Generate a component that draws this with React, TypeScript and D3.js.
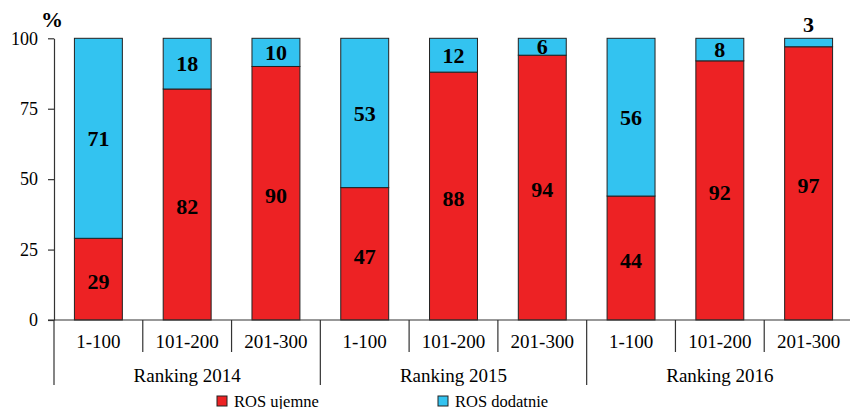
import * as d3 from 'd3';
import React, { useEffect, useRef } from 'react';

const groups = ['Ranking 2014', 'Ranking 2015', 'Ranking 2016'];
const ranges = ['1-100', '101-200', '201-300'];
const rosUjemne = [29, 82, 90, 47, 88, 94, 44, 92, 97];
const rosDodatnie = [71, 18, 10, 53, 12, 6, 56, 8, 3];
const yTicks = [0, 25, 50, 75, 100];
const seriesNames = ['ROS ujemne', 'ROS dodatnie'];
const colors = ['#ED2224', '#33C3F0'];

const W = 850;
const H = 409;

export default function App() {
  const ref = useRef<SVGSVGElement>(null);

  useEffect(() => {
    const svg = d3.select(ref.current);
    svg.selectAll('*').remove();
    const font = "'Liberation Serif', 'Times New Roman', Times, serif";

    const left = 54;
    const right = 853;
    const top = 38.3;
    const bottom = 320;

    const keys = d3.range(rosUjemne.length).map(String);
    const xCat = d3.scaleBand().domain(keys).range([left, right]).paddingInner(0).paddingOuter(0);
    const xBar = d3.scaleBand().domain(keys).range([left, right]).paddingInner(0.46).paddingOuter(0.23);
    const y = d3.scaleLinear().domain([0, 100]).range([bottom, top]);

    // y axis
    const yAxis = d3.axisLeft(y).tickValues(yTicks).tickSize(6).tickSizeOuter(0).tickPadding(10);
    const ya = svg.append('g').attr('transform', `translate(${left},0)`).call(yAxis);
    ya.attr('font-family', null).attr('font-size', null);
    ya.selectAll('path,line').attr('stroke', '#333').attr('stroke-width', 1.2);
    ya.selectAll('text')
      .style('font-family', font)
      .style('font-size', '18px')
      .attr('fill', '#000');

    svg.append('text')
      .attr('x', 52)
      .attr('y', 27)
      .attr('text-anchor', 'middle')
      .style('font-family', font)
      .style('font-weight', 'bold')
      .style('font-size', '22px')
      .text('%');

    // bars
    const g = svg.append('g');
    keys.forEach((k, i) => {
      const x0 = xBar(k);
      const bw = xBar.bandwidth();
      const neg = rosUjemne[i];
      const pos = rosDodatnie[i];
      g.append('rect')
        .attr('x', x0).attr('width', bw)
        .attr('y', y(neg)).attr('height', y(0) - y(neg))
        .attr('fill', colors[0]).attr('stroke', '#222').attr('stroke-width', 1);
      g.append('rect')
        .attr('x', x0).attr('width', bw)
        .attr('y', y(neg + pos)).attr('height', y(neg) - y(neg + pos))
        .attr('fill', colors[1]).attr('stroke', '#222').attr('stroke-width', 1);

      const cx = x0 + bw / 2;
      g.append('text')
        .attr('x', cx).attr('y', (y(0) + y(neg)) / 2 + 2)
        .attr('dy', '0.35em')
        .attr('text-anchor', 'middle')
        .style('font-family', font).style('font-weight', 'bold').style('font-size', '22px')
        .text(neg);
      const small = y(neg) - y(neg + pos) < 16;
      g.append('text')
        .attr('x', cx).attr('y', small ? y(neg + pos) - 6 : (y(neg) + y(neg + pos)) / 2)
        .attr('dy', small ? 0 : '0.35em')
        .attr('text-anchor', 'middle')
        .style('font-family', font).style('font-weight', 'bold').style('font-size', '22px')
        .text(pos);
    });

    // x axis
    const xg = svg.append('g');
    xg.append('line')
      .attr('x1', 48).attr('x2', right).attr('y1', bottom).attr('y2', bottom)
      .attr('stroke', '#333').attr('stroke-width', 1.2);
    keys.forEach((k, i) => {
      const xb = xCat(k) + xCat.bandwidth();
      const isGroupEnd = (i + 1) % ranges.length === 0;
      xg.append('line')
        .attr('x1', xb).attr('x2', xb)
        .attr('y1', bottom).attr('y2', isGroupEnd ? 385 : 352)
        .attr('stroke', '#333').attr('stroke-width', 1.2);
      xg.append('text')
        .attr('x', xCat(k) + xCat.bandwidth() / 2)
        .attr('y', 348)
        .attr('text-anchor', 'middle')
        .style('font-family', font).style('font-size', '19px')
        .text(ranges[i % ranges.length]);
    });
    xg.append('line')
      .attr('x1', left).attr('x2', left).attr('y1', bottom).attr('y2', 385)
      .attr('stroke', '#333').attr('stroke-width', 1.2);
    groups.forEach((gname, gi) => {
      const a = xCat(String(gi * ranges.length));
      const b = xCat(String(gi * ranges.length + ranges.length - 1)) + xCat.bandwidth();
      xg.append('text')
        .attr('x', (a + b) / 2)
        .attr('y', 382)
        .attr('text-anchor', 'middle')
        .style('font-family', font).style('font-size', '19px')
        .text(gname);
    });

    // legend
    const legendX = [217, 438];
    seriesNames.forEach((name, i) => {
      const lg = svg.append('g').attr('transform', `translate(${legendX[i]},396)`);
      lg.append('rect')
        .attr('x', 0).attr('y', 0).attr('width', 10).attr('height', 10)
        .attr('fill', colors[i]).attr('stroke', '#222').attr('stroke-width', 1);
      lg.append('text')
        .attr('x', 17).attr('y', 10.5)
        .style('font-family', font).style('font-size', '16.5px')
        .text(name);
    });
  }, []);

  return (
    <svg
      ref={ref}
      width={W}
      height={H}
      style={{ position: 'absolute', left: 0, top: 0, background: '#fff' }}
    />
  );
}
